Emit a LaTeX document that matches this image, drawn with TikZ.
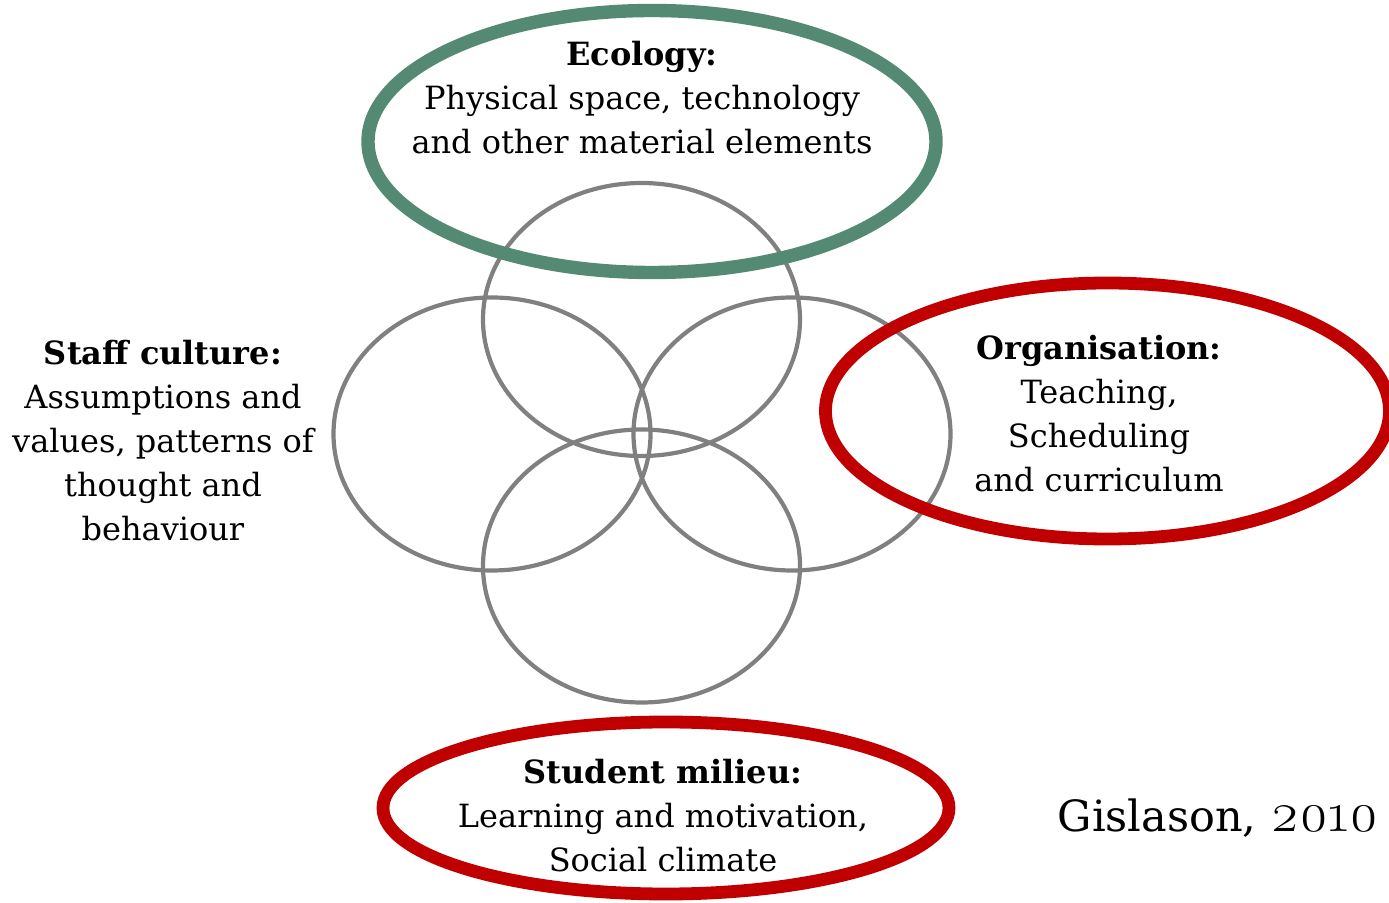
\documentclass[tikz,border=0pt]{standalone}
\usepackage{fontspec}
\setmainfont{DejaVu Serif}
\newfontfamily\yearfont[Numbers=OldStyle,Scale=1.3]{Latin Modern Roman}
\usetikzlibrary{shapes.geometric}
\definecolor{ecogreen}{HTML}{548A74}
\definecolor{accentred}{HTML}{C00000}
\definecolor{ringgray}{HTML}{808080}
\begin{document}
\begin{tikzpicture}[x=0.5pt,y=-0.5pt,
  ring/.style={ellipse, draw=ringgray, line width=2.1pt, minimum width=158.5pt, minimum height=136.5pt, inner sep=0pt},
  frame/.style={ellipse, line width=6.4pt, inner sep=0pt},
  label/.style={align=center, font=\fontsize{16}{22}\selectfont, text=black, inner sep=0pt},
]
\path[use as bounding box] (0,0) rectangle (1389,903);
% four overlapping rings
\node[ring] (top)    at (641.5,319.5) {};
\node[ring] (left)   at (492,434) {};
\node[ring] (right)  at (792,434) {};
\node[ring] (bottom) at (641.5,566) {};
% coloured frames
\node[frame, draw=ecogreen,  line width=6.7pt, minimum width=284pt, minimum height=131pt] (ecology) at (652,141.5) {};
\node[frame, draw=accentred, minimum width=282pt, minimum height=128pt] (organisation) at (1107.5,411) {};
\node[frame, draw=accentred, minimum width=283pt, minimum height=86pt]  (milieu) at (666,808) {};
% labels
\node[label] (ecotext) at (642,98) {\textbf{Ecology:}\\Physical space, technology\\and other material elements};
\node[label] (stafftext) at (163,441) {\textbf{Staff culture:}\\Assumptions and\\values, patterns of\\thought and\\behaviour};
\node[label] (orgtext) at (1099,414) {\textbf{Organisation:}\\Teaching,\\Scheduling\\and curriculum};
\node[label] (miltext) at (663,816) {\textbf{Student milieu:}\\Learning and motivation,\\Social climate};
\node[label, font=\fontsize{21.5}{24}\selectfont] (credit) at (1218,818) {Gislason, {\yearfont 2010}};
\end{tikzpicture}
\end{document}
